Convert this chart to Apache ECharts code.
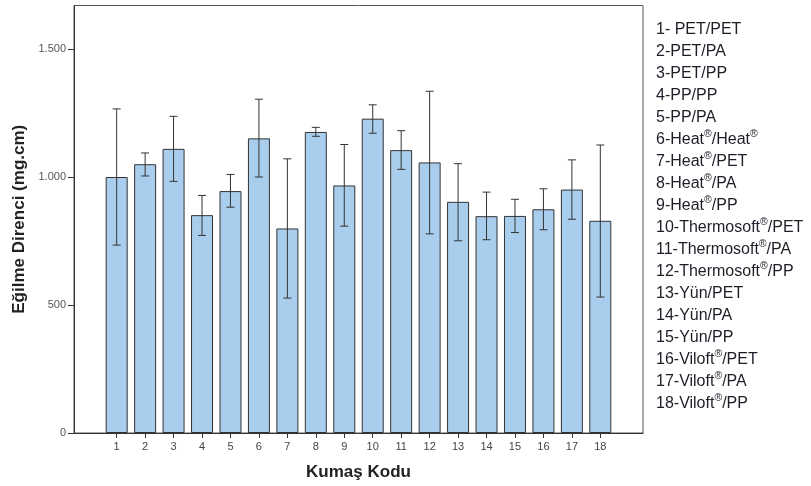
<!DOCTYPE html>
<html>
<head>
<meta charset="utf-8">
<script src="https://cdn.jsdelivr.net/npm/echarts@6/dist/echarts.min.js"></script>
<style>html,body{margin:0;padding:0;background:#fff;}#c{width:811px;height:486px;}</style>
</head>
<body>
<div id="c"></div>
<script>
var categories = ['1','2','3','4','5','6','7','8','9','10','11','12','13','14','15','16','17','18'];
var means = [1000, 1050, 1110, 851, 945, 1151, 799, 1176, 967, 1228, 1105, 1057, 903, 847, 848, 874, 951, 829];
var lower = [734, 1004, 983, 772, 882, 1000, 527, 1159, 808, 1171, 1030, 778, 751, 755, 783, 794, 835, 531];
var upper = [1266, 1094, 1237, 928, 1010, 1304, 1071, 1194, 1127, 1282, 1181, 1335, 1052, 941, 913, 954, 1067, 1125];
var yTicks = [0, 500, 1000, 1500];
var legendLines = ['1- PET/PET','2-PET/PA','3-PET/PP','4-PP/PP','5-PP/PA','6-Heat®/Heat®','7-Heat®/PET','8-Heat®/PA','9-Heat®/PP','10-Thermosoft®/PET','11-Thermosoft®/PA','12-Thermosoft®/PP','13-Yün/PET','14-Yün/PA','15-Yün/PP','16-Viloft®/PET','17-Viloft®/PA','18-Viloft®/PP'];
var yTitle = 'Eğilme Direnci (mg.cm)';
var xTitle = 'Kumaş Kodu';

var FONT = '"Liberation Sans", Arial, sans-serif';
var xs = categories.map(function(c){ return Number(c); });
var barData = xs.map(function(x, i){ return [x, means[i]]; });
var errData = xs.map(function(x, i){ return [x, lower[i], upper[i]]; });
var legendText = legendLines.map(function(s){ return s.replace(/®/g, '{r|®}'); }).join('\n');

var chart = echarts.init(document.getElementById('c'), null, {renderer: 'canvas'});
chart.setOption({
  animation: false,
  backgroundColor: '#fff',
  textStyle: {fontFamily: FONT},
  grid: {left: 74, right: 168, top: 5.5, bottom: 51, show: true, borderColor: '#555', borderWidth: 1, backgroundColor: 'transparent'},
  title: {
    text: legendText,
    left: 656, top: 19, padding: 0,
    textStyle: {
      fontFamily: FONT, fontSize: 16, fontWeight: 'normal', color: '#1e1e28', lineHeight: 22,
      rich: {r: {fontSize: 10.5, color: '#1e1e28', fontFamily: FONT, verticalAlign: 'top', lineHeight: 18}}
    }
  },
  xAxis: {
    type: 'value', min: -0.5, max: 19.5,
    splitLine: {show: false},
    axisLine: {show: true, onZero: false, lineStyle: {color: '#333', width: 1}},
    axisTick: {show: true, length: 5, customValues: xs, lineStyle: {color: '#333'}},
    axisLabel: {customValues: xs, color: '#444', fontSize: 11, margin: 8, fontFamily: FONT},
    name: xTitle, nameLocation: 'middle', nameGap: 31,
    nameTextStyle: {fontSize: 17, fontWeight: 'bold', color: '#222', fontFamily: FONT}
  },
  yAxis: {
    type: 'value', min: 0, max: 1670,
    splitLine: {show: false},
    axisLine: {show: true, onZero: false, lineStyle: {color: '#333', width: 1}},
    axisTick: {show: true, length: 6, customValues: yTicks, lineStyle: {color: '#333'}},
    axisLabel: {customValues: yTicks, color: '#555', fontSize: 11, margin: 8, fontFamily: FONT,
      formatter: function(v){ return String(v).replace(/\B(?=(\d{3})+(?!\d))/g, '.'); }},
    name: yTitle, nameLocation: 'middle', nameGap: 40,
    nameTextStyle: {fontSize: 17, fontWeight: 'bold', color: '#222', fontFamily: FONT}
  },
  series: [
    {
      type: 'bar', data: barData, barWidth: 22,
      itemStyle: {color: '#a9cdec', borderColor: '#333', borderWidth: 1}
    },
    {
      type: 'custom', data: errData, z: 5,
      renderItem: function(params, api){
        var x = api.value(0);
        var lo = api.coord([x, api.value(1)]);
        var hi = api.coord([x, api.value(2)]);
        var cap = 4;
        var st = {stroke: '#333', lineWidth: 1};
        return {type: 'group', children: [
          {type: 'line', shape: {x1: lo[0], y1: lo[1], x2: hi[0], y2: hi[1]}, style: st},
          {type: 'line', shape: {x1: lo[0]-cap, y1: lo[1], x2: lo[0]+cap, y2: lo[1]}, style: st},
          {type: 'line', shape: {x1: hi[0]-cap, y1: hi[1], x2: hi[0]+cap, y2: hi[1]}, style: st}
        ]};
      }
    }
  ]
});
</script>
</body>
</html>
